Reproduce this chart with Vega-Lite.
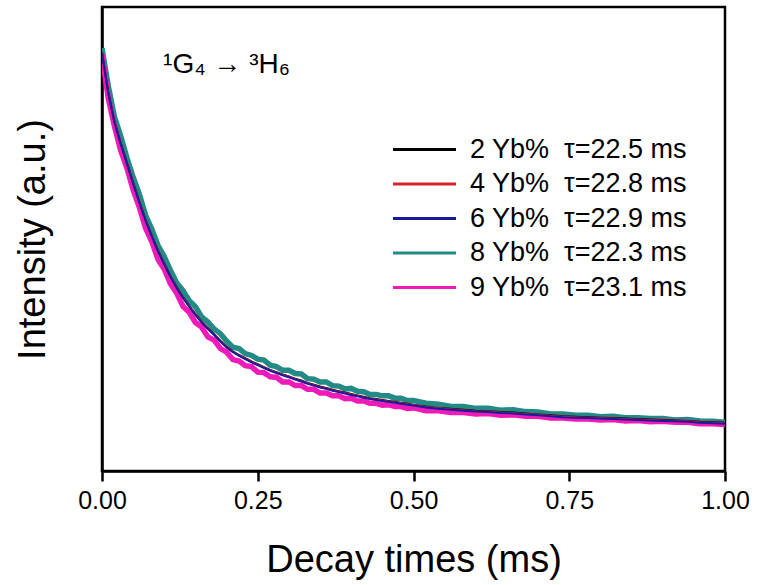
{
"$schema": "https://vega.github.io/schema/vega-lite/v6.json",
"width": 623, "height": 464,
"autosize": {"type": "none"},
"padding": {"left": 102, "top": 7, "right": 34, "bottom": 114},
"background": "white",
"config": {
  "font": "Liberation Sans",
  "view": {"stroke": "black", "strokeWidth": 2.5},
  "axis": {"grid": false, "domainColor": "black", "domainWidth": 2.5, "tickColor": "black", "tickWidth": 2.5, "labelColor": "black", "titleColor": "black", "titleFontWeight": "normal", "labelFont": "Liberation Sans", "titleFont": "Liberation Sans"}
},
"datasets": {
"decay": [
{"t":0,"k2":0.902,"k4":0.901,"k6":0.9,"k8":0.911,"k9":0.897},
{"t":0.01,"k2":0.817,"k4":0.816,"k6":0.815,"k8":0.83,"k9":0.804},
{"t":0.02,"k2":0.753,"k4":0.752,"k6":0.751,"k8":0.763,"k9":0.743},
{"t":0.03,"k2":0.707,"k4":0.706,"k6":0.705,"k8":0.722,"k9":0.691},
{"t":0.04,"k2":0.664,"k4":0.663,"k6":0.662,"k8":0.675,"k9":0.653},
{"t":0.05,"k2":0.621,"k4":0.62,"k6":0.619,"k8":0.633,"k9":0.606},
{"t":0.06,"k2":0.58,"k4":0.579,"k6":0.578,"k8":0.596,"k9":0.568},
{"t":0.07,"k2":0.541,"k4":0.54,"k6":0.539,"k8":0.551,"k9":0.523},
{"t":0.08,"k2":0.507,"k4":0.506,"k6":0.505,"k8":0.521,"k9":0.494},
{"t":0.09,"k2":0.475,"k4":0.474,"k6":0.473,"k8":0.486,"k9":0.456},
{"t":0.1,"k2":0.447,"k4":0.446,"k6":0.445,"k8":0.462,"k9":0.435},
{"t":0.11,"k2":0.42,"k4":0.419,"k6":0.418,"k8":0.432,"k9":0.403},
{"t":0.12,"k2":0.396,"k4":0.395,"k6":0.394,"k8":0.405,"k9":0.383},
{"t":0.13,"k2":0.375,"k4":0.374,"k6":0.373,"k8":0.389,"k9":0.355},
{"t":0.14,"k2":0.356,"k4":0.355,"k6":0.354,"k8":0.367,"k9":0.342},
{"t":0.15,"k2":0.338,"k4":0.337,"k6":0.336,"k8":0.354,"k9":0.32},
{"t":0.16,"k2":0.322,"k4":0.321,"k6":0.32,"k8":0.332,"k9":0.31},
{"t":0.17,"k2":0.308,"k4":0.307,"k6":0.306,"k8":0.321,"k9":0.289},
{"t":0.18,"k2":0.295,"k4":0.294,"k6":0.293,"k8":0.306,"k9":0.282},
{"t":0.19,"k2":0.281,"k4":0.28,"k6":0.279,"k8":0.296,"k9":0.264},
{"t":0.2,"k2":0.268,"k4":0.267,"k6":0.266,"k8":0.28,"k9":0.256},
{"t":0.21,"k2":0.258,"k4":0.257,"k6":0.256,"k8":0.267,"k9":0.24},
{"t":0.22,"k2":0.25,"k4":0.249,"k6":0.248,"k8":0.264,"k9":0.237},
{"t":0.23,"k2":0.243,"k4":0.242,"k6":0.241,"k8":0.253,"k9":0.227},
{"t":0.24,"k2":0.236,"k4":0.235,"k6":0.234,"k8":0.249,"k9":0.225},
{"t":0.25,"k2":0.23,"k4":0.229,"k6":0.228,"k8":0.241,"k9":0.213},
{"t":0.26,"k2":0.224,"k4":0.223,"k6":0.222,"k8":0.239,"k9":0.212},
{"t":0.27,"k2":0.218,"k4":0.217,"k6":0.216,"k8":0.228,"k9":0.203},
{"t":0.28,"k2":0.213,"k4":0.212,"k6":0.211,"k8":0.225,"k9":0.202},
{"t":0.29,"k2":0.208,"k4":0.207,"k6":0.206,"k8":0.217,"k9":0.192},
{"t":0.3,"k2":0.204,"k4":0.203,"k6":0.202,"k8":0.217,"k9":0.192},
{"t":0.31,"k2":0.199,"k4":0.198,"k6":0.197,"k8":0.21,"k9":0.184},
{"t":0.32,"k2":0.195,"k4":0.194,"k6":0.193,"k8":0.209,"k9":0.184},
{"t":0.33,"k2":0.19,"k4":0.189,"k6":0.188,"k8":0.199,"k9":0.176},
{"t":0.34,"k2":0.186,"k4":0.185,"k6":0.184,"k8":0.198,"k9":0.176},
{"t":0.35,"k2":0.182,"k4":0.181,"k6":0.18,"k8":0.192,"k9":0.168},
{"t":0.36,"k2":0.179,"k4":0.178,"k6":0.177,"k8":0.192,"k9":0.168},
{"t":0.37,"k2":0.175,"k4":0.174,"k6":0.173,"k8":0.184,"k9":0.162},
{"t":0.38,"k2":0.172,"k4":0.171,"k6":0.17,"k8":0.183,"k9":0.162},
{"t":0.39,"k2":0.169,"k4":0.168,"k6":0.167,"k8":0.177,"k9":0.156},
{"t":0.4,"k2":0.166,"k4":0.165,"k6":0.164,"k8":0.178,"k9":0.157},
{"t":0.41,"k2":0.163,"k4":0.162,"k6":0.161,"k8":0.172,"k9":0.151},
{"t":0.42,"k2":0.16,"k4":0.159,"k6":0.158,"k8":0.171,"k9":0.151},
{"t":0.43,"k2":0.157,"k4":0.156,"k6":0.155,"k8":0.165,"k9":0.146},
{"t":0.44,"k2":0.155,"k4":0.154,"k6":0.153,"k8":0.165,"k9":0.146},
{"t":0.45,"k2":0.153,"k4":0.152,"k6":0.151,"k8":0.162,"k9":0.142},
{"t":0.46,"k2":0.151,"k4":0.15,"k6":0.149,"k8":0.162,"k9":0.143},
{"t":0.47,"k2":0.149,"k4":0.148,"k6":0.147,"k8":0.157,"k9":0.139},
{"t":0.48,"k2":0.147,"k4":0.146,"k6":0.145,"k8":0.157,"k9":0.139},
{"t":0.49,"k2":0.145,"k4":0.144,"k6":0.143,"k8":0.152,"k9":0.135},
{"t":0.5,"k2":0.143,"k4":0.142,"k6":0.141,"k8":0.152,"k9":0.136},
{"t":0.52,"k2":0.139,"k4":0.138,"k6":0.137,"k8":0.146,"k9":0.13},
{"t":0.54,"k2":0.136,"k4":0.135,"k6":0.134,"k8":0.144,"k9":0.13},
{"t":0.56,"k2":0.134,"k4":0.133,"k6":0.132,"k8":0.139,"k9":0.126},
{"t":0.58,"k2":0.132,"k4":0.131,"k6":0.13,"k8":0.139,"k9":0.126},
{"t":0.6,"k2":0.13,"k4":0.129,"k6":0.128,"k8":0.135,"k9":0.123},
{"t":0.62,"k2":0.129,"k4":0.128,"k6":0.127,"k8":0.135,"k9":0.124},
{"t":0.64,"k2":0.127,"k4":0.126,"k6":0.125,"k8":0.131,"k9":0.12},
{"t":0.66,"k2":0.126,"k4":0.125,"k6":0.124,"k8":0.132,"k9":0.121},
{"t":0.68,"k2":0.124,"k4":0.123,"k6":0.122,"k8":0.128,"k9":0.118},
{"t":0.7,"k2":0.122,"k4":0.121,"k6":0.12,"k8":0.127,"k9":0.118},
{"t":0.72,"k2":0.12,"k4":0.119,"k6":0.118,"k8":0.123,"k9":0.114},
{"t":0.74,"k2":0.118,"k4":0.117,"k6":0.116,"k8":0.123,"k9":0.114},
{"t":0.76,"k2":0.117,"k4":0.116,"k6":0.115,"k8":0.12,"k9":0.112},
{"t":0.78,"k2":0.116,"k4":0.115,"k6":0.114,"k8":0.12,"k9":0.112},
{"t":0.8,"k2":0.115,"k4":0.114,"k6":0.113,"k8":0.117,"k9":0.11},
{"t":0.82,"k2":0.114,"k4":0.113,"k6":0.112,"k8":0.118,"k9":0.111},
{"t":0.84,"k2":0.113,"k4":0.112,"k6":0.111,"k8":0.115,"k9":0.108},
{"t":0.86,"k2":0.112,"k4":0.111,"k6":0.11,"k8":0.115,"k9":0.109},
{"t":0.88,"k2":0.111,"k4":0.11,"k6":0.109,"k8":0.113,"k9":0.106},
{"t":0.9,"k2":0.11,"k4":0.109,"k6":0.108,"k8":0.113,"k9":0.107},
{"t":0.92,"k2":0.109,"k4":0.108,"k6":0.107,"k8":0.11,"k9":0.105},
{"t":0.94,"k2":0.108,"k4":0.107,"k6":0.106,"k8":0.111,"k9":0.105},
{"t":0.96,"k2":0.106,"k4":0.105,"k6":0.104,"k8":0.108,"k9":0.102},
{"t":0.98,"k2":0.105,"k4":0.104,"k6":0.103,"k8":0.107,"k9":0.102},
{"t":1,"k2":0.104,"k4":0.103,"k6":0.102,"k8":0.105,"k9":0.1}
],
"note": [{"t": 0.098, "I": 0.858, "label": "¹G₄ → ³H₆"}]
},
"layer": [
{
  "data": {"name": "decay"},
  "transform": [{"fold": ["k8", "k9", "k2", "k4", "k6"], "as": ["series", "I"]}],
  "mark": {"type": "line", "clip": true},
  "encoding": {
    "x": {"field": "t", "type": "quantitative", "scale": {"domain": [0, 1], "nice": false},
      "axis": {"values": [0, 0.25, 0.5, 0.75, 1], "format": ".2f", "title": "Decay times (ms)", "tickSize": 10, "labelFontSize": 25, "labelPadding": 7, "labelFlush": false, "titleFontSize": 38, "titlePadding": 28}},
    "y": {"field": "I", "type": "quantitative", "scale": {"domain": [0, 1], "nice": false},
      "axis": {"title": "Intensity (a.u.)", "labels": false, "ticks": false, "titleFontSize": 38, "titlePadding": 50}},
    "color": {"field": "series", "type": "nominal",
      "scale": {"domain": ["k2", "k4", "k6", "k8", "k9"], "range": ["#000000", "#d8232a", "#1a1aa0", "#238a86", "#f01ab8"]},
      "legend": {"orient": "none", "legendX": 305, "legendY": 125, "title": null, "symbolType": "M-1.97,0H1.97", "symbolSize": 1024, "symbolStrokeWidth": 3, "labelFontSize": 27, "labelOffset": 28, "labelLimit": 0, "rowPadding": 3.5, "padding": 0, "labelColor": "black", "labelFont": "Liberation Sans",
        "labelExpr": "{'k2':'2 Yb%\u00a0\u00a0τ=22.5 ms','k4':'4 Yb%\u00a0\u00a0τ=22.8 ms','k6':'6 Yb%\u00a0\u00a0τ=22.9 ms','k8':'8 Yb%\u00a0\u00a0τ=22.3 ms','k9':'9 Yb%\u00a0\u00a0τ=23.1 ms'}[datum.value]"}},
    "strokeWidth": {"condition": {"test": "datum.series === 'k8' || datum.series === 'k9'", "value": 5.5}, "value": 2}
  }
},
{
  "data": {"name": "note"},
  "mark": {"type": "text", "align": "left", "baseline": "alphabetic", "fontSize": 28, "font": "Liberation Sans", "color": "black"},
  "encoding": {
    "x": {"field": "t", "type": "quantitative"},
    "y": {"field": "I", "type": "quantitative"},
    "text": {"field": "label"}
  }
}
]
}
